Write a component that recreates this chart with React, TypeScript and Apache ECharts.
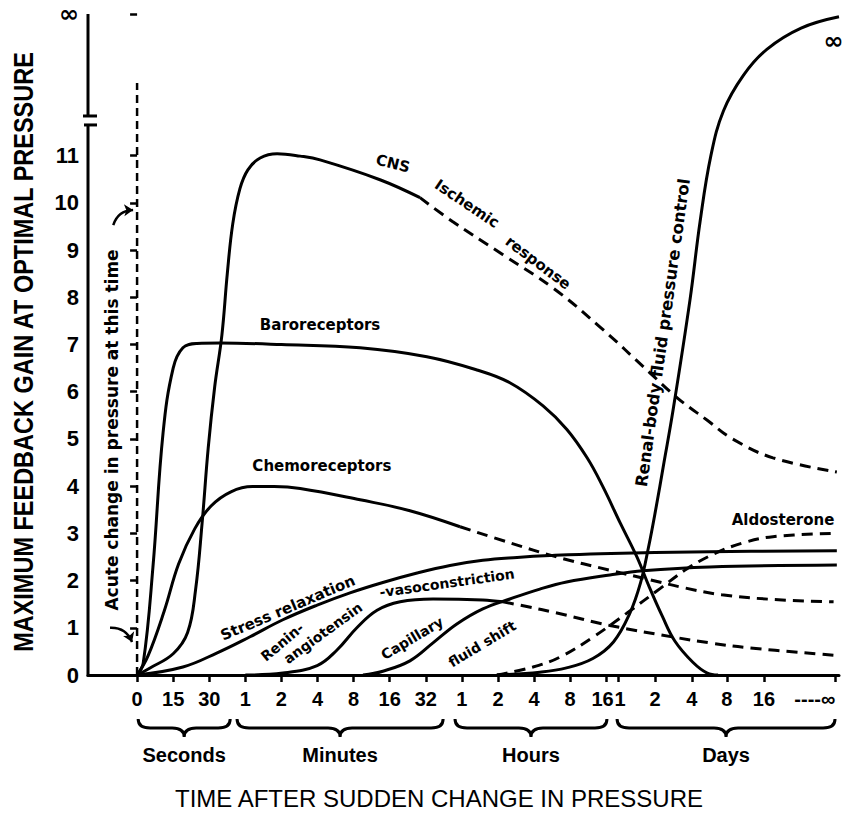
import React, { useEffect, useRef } from 'react';
import * as echarts from 'echarts';

// ---------- axis values (x in "tick step" units) ----------
const xTickValues = [0, 1, 2, 3, 4, 5, 6, 7, 8, 9, 10, 11, 12, 13, 13.33, 14.35, 15.37, 16.34, 17.37, 19.35];
const xLabelValues = [0, 1, 2, 3, 4, 5, 6, 7, 8, 9, 10, 11, 12, 12.9, 13.38, 14.35, 15.37, 16.34, 17.37, 18.78];
const xTickLabels = ['0', '15', '30', '1', '2', '4', '8', '16', '32', '1', '2', '4', '8', '16', '1', '2', '4', '8', '16', '----∞'];
const yTickValues = [0, 1, 2, 3, 4, 5, 6, 7, 8, 9, 10, 11, 14];
const yTickLabels = ['0', '1', '2', '3', '4', '5', '6', '7', '8', '9', '10', '11', '∞'];
const yBreak = [11.65, 11.84];

const timeUnits = ['Seconds', 'Minutes', 'Hours', 'Days'];
const unitStart = [0.03, 2.77, 8.81, 13.3];
const unitEnd = [2.58, 8.48, 13.02, 19.34];

// ---------- curves [x, gain] ----------
const cnsSolid = [[0, 0], [0.36, 0.15], [1.0, 0.45], [1.4, 0.9], [1.62, 1.8], [1.8, 3.2], [1.97, 4.8], [2.15, 6.1], [2.35, 7.2], [2.5, 8.5], [2.65, 9.55], [2.85, 10.3], [3.07, 10.7], [3.41, 10.95], [3.88, 11.04], [4.52, 10.99], [5.07, 10.91], [6.73, 10.49], [7.84, 10.11]];
const cnsDashed = [[7.84, 10.11], [8.75, 9.6], [10.14, 8.9], [11.52, 8.2], [12.83, 7.37], [14.21, 6.4], [15.0, 5.85], [15.79, 5.4], [16.5, 5.0], [17.62, 4.6], [19.39, 4.3]];
const baroreceptors = [[0, 0], [0.17, 0.25], [0.44, 2.29], [0.72, 5.13], [1.0, 6.5], [1.27, 6.93], [1.66, 7.02], [2.3, 7.03], [4.0, 7.0], [6.18, 6.93], [8.03, 6.74], [9.42, 6.46], [10.33, 6.19], [11.25, 5.7], [11.91, 5.2], [12.47, 4.6], [12.9, 4.0], [13.4, 3.2], [13.85, 2.5], [14.2, 1.85], [14.55, 1.25], [14.9, 0.72], [15.4, 0.27], [15.8, 0.04], [16.1, 0]];
const chemoSolid = [[0, 0], [0.3, 0.4], [0.75, 1.35], [1.15, 2.35], [1.6, 3.1], [2.05, 3.58], [2.6, 3.88], [3.2, 3.99], [3.8, 3.99], [4.52, 3.95], [6.18, 3.71], [7.56, 3.48], [8.95, 3.14]];
const chemoDashed = [[8.95, 3.14], [10.33, 2.8], [11.63, 2.5], [13.1, 2.22], [14.2, 2.02], [15.2, 1.84], [16.2, 1.7], [17.62, 1.6], [19.3, 1.55]];
const stressRelaxation = [[0, 0], [1.27, 0.17], [2.22, 0.47], [3.13, 0.81], [4.04, 1.17], [4.99, 1.48], [5.9, 1.74], [6.81, 1.96], [7.76, 2.16], [8.67, 2.32], [9.58, 2.43], [10.53, 2.49], [11.44, 2.53], [12.83, 2.57], [15.87, 2.61], [19.39, 2.63]];
const reninSolid = [[3.0, 0], [4.04, 0.04], [4.99, 0.2], [5.54, 0.53], [6.09, 1.0], [6.65, 1.37], [7.29, 1.55], [8.2, 1.61], [9.58, 1.59], [10.14, 1.55]];
const reninDashed = [[10.14, 1.55], [10.8, 1.45], [11.6, 1.32], [13.1, 1.05], [14.96, 0.79], [15.87, 0.68], [16.9, 0.58], [19.3, 0.42]];
const capillaryShift = [[6.26, 0], [6.81, 0.08], [7.56, 0.3], [8.2, 0.68], [8.86, 1.08], [9.58, 1.4], [10.33, 1.61], [11.16, 1.82], [11.9, 1.97], [13.1, 2.12], [14.02, 2.21], [15.87, 2.29], [19.39, 2.33]];
const renalBodyFluid = [[9.97, 0], [11.16, 0.06], [11.9, 0.15], [12.63, 0.35], [13.2, 0.7], [13.65, 1.3], [13.95, 1.95], [14.17, 2.7], [14.37, 3.5], [14.6, 4.5], [14.85, 5.6], [15.32, 7.94], [15.6, 9.6], [15.9, 11.0], [16.25, 11.95], [16.8, 12.7], [17.45, 13.25], [18.4, 13.7], [19.45, 13.94]];
const aldosterone = [[9.97, 0], [10.97, 0.17], [11.72, 0.38], [12.63, 0.8], [13.57, 1.31], [14.49, 1.83], [15.24, 2.25], [16.0, 2.57], [16.8, 2.8], [17.62, 2.93], [19.39, 3.0]];
const acuteLine = [[0, 0], [0, 12.54]];

// ---------- layout (annotation placement) ----------
const X_MIN = -1.36;
const X_MAX = 19.45;
const Y_MAX = 14;

const annotations = [
  { text: 'CNS', x: 7.09, y: 10.83, rot: -14, size: 15 },
  { text: 'Ischemic', x: 9.14, y: 9.98, rot: -34, size: 15 },
  { text: 'response', x: 11.11, y: 8.73, rot: -37, size: 15 },
  { text: 'Baroreceptors', x: 5.07, y: 7.42, rot: 0, size: 15 },
  { text: 'Chemoreceptors', x: 5.12, y: 4.43, rot: 0, size: 15 },
  { text: 'Stress relaxation', x: 4.18, y: 1.42, rot: 23, size: 15 },
  { text: 'Renin-', x: 4.02, y: 0.7, rot: 40, size: 14 },
  { text: 'angiotensin', x: 5.15, y: 0.89, rot: 36, size: 14 },
  { text: '-vasoconstriction', x: 8.59, y: 1.95, rot: 8, size: 14 },
  { text: 'Capillary', x: 7.62, y: 0.78, rot: 31, size: 14 },
  { text: 'fluid shift', x: 9.56, y: 0.66, rot: 31, size: 14 },
  { text: 'Renal-body fluid pressure control', x: 14.57, y: 7.25, rot: 82, size: 16.5 },
  { text: 'Aldosterone', x: 17.9, y: 3.28, rot: 0, size: 15 },
  { text: 'Acute change in pressure at this time', x: -0.69, y: 5.19, rot: 90, size: 17 },
  { text: '∞', x: 19.3, y: 13.43, rot: 0, size: 24 },
];

const arrows = [
  { from: [-0.66, 9.53], to: [-0.11, 9.85], curve: 0.35 },
  { from: [-0.75, 1.0], to: [-0.14, 0.7], curve: 0.35 },
];

const FONT = '"DejaVu Sans", sans-serif';
const AXFONT = '"Liberation Sans", Arial, sans-serif';

function curve(name: string, data: number[][], dashed: boolean) {
  return {
    type: 'line',
    name,
    data,
    showSymbol: false,
    symbol: 'none',
    smooth: 0.4,
    silent: true,
    z: 3,
    lineStyle: { color: '#000', width: 3, type: dashed ? [11, 7] : 'solid' },
  };
}

function findLabel(v: number, vals: number[], labels: string[]) {
  const i = vals.findIndex((t) => Math.abs(t - v) < 1e-6);
  return i >= 0 ? labels[i] : '';
}

export default function App() {
  const ref = useRef<HTMLDivElement>(null);
  useEffect(() => {
    const chart = echarts.init(ref.current!, null, { renderer: 'svg' });
    const option: any = {
      animation: false,
      backgroundColor: '#fff',
      grid: { left: 88, top: 14, width: 751, height: 661, containLabel: false },
      xAxis: {
        type: 'value',
        min: X_MIN,
        max: X_MAX,
        splitLine: { show: false },
        axisLine: { show: true, onZero: false, lineStyle: { color: '#000', width: 3 } },
        axisTick: { show: true, customValues: xTickValues, length: 7, lineStyle: { color: '#000', width: 2.5 } },
        axisLabel: {
          customValues: xLabelValues,
          margin: 14,
          color: '#000',
          fontWeight: 'bold',
          fontSize: 20,
          fontFamily: AXFONT,
          hideOverlap: false,
          formatter: (v: number) => findLabel(v, xLabelValues, xTickLabels),
        },
      },
      yAxis: {
        type: 'value',
        min: 0,
        max: Y_MAX,
        splitLine: { show: false },
        axisLine: { show: false },
        axisTick: { show: true, customValues: yTickValues, length: 7, lineStyle: { color: '#000', width: 2.5 } },
        axisLabel: {
          customValues: yTickValues,
          margin: 9,
          color: '#000',
          fontWeight: 'bold',
          fontSize: 22,
          fontFamily: AXFONT,
          formatter: (v: number) => {
            const t = findLabel(v, yTickValues, yTickLabels);
            return t === '∞' ? '{inf|∞}' : t;
          },
          rich: { inf: { fontSize: 24, fontWeight: 'bold', fontFamily: FONT, color: '#000', lineHeight: 20 } },
        },
      },
      graphic: [
        {
          type: 'text',
          x: 23,
          y: 352,
          rotation: Math.PI / 2,
          scaleX: 0.87,
          style: {
            text: 'MAXIMUM FEEDBACK GAIN AT OPTIMAL PRESSURE',
            fill: '#000',
            font: 'bold 27px ' + AXFONT,
            align: 'center',
            verticalAlign: 'middle',
          },
        },
        {
          type: 'text',
          x: 439,
          y: 798,
          style: {
            text: 'TIME AFTER SUDDEN CHANGE IN PRESSURE',
            fill: '#000',
            font: '24px ' + AXFONT,
            align: 'center',
            verticalAlign: 'middle',
          },
        },
      ],
      series: [
        curve('CNS ischemic response', cnsSolid, false),
        curve('CNS ischemic response (dashed)', cnsDashed, true),
        curve('Baroreceptors', baroreceptors, false),
        curve('Chemoreceptors', chemoSolid, false),
        curve('Chemoreceptors (dashed)', chemoDashed, true),
        curve('Stress relaxation', stressRelaxation, false),
        curve('Renin-angiotensin-vasoconstriction', reninSolid, false),
        curve('Renin-angiotensin-vasoconstriction (dashed)', reninDashed, true),
        curve('Capillary fluid shift', capillaryShift, false),
        curve('Renal-body fluid pressure control', renalBodyFluid, false),
        curve('Aldosterone', aldosterone, true),
        {
          type: 'line',
          name: 'Acute change',
          data: acuteLine,
          showSymbol: false,
          symbol: 'none',
          silent: true,
          lineStyle: { color: '#000', width: 2.5, type: [8, 5] },
        },
        {
          type: 'lines',
          coordinateSystem: 'cartesian2d',
          silent: true,
          symbol: ['none', 'arrow'],
          symbolSize: 9,
          data: arrows.map((a) => ({ coords: [a.from, a.to], lineStyle: { curveness: a.curve } })),
          lineStyle: { color: '#000', width: 2.5, opacity: 1 },
        },
        {
          // y axis line with break
          type: 'custom',
          silent: true,
          clip: false,
          data: [[X_MIN, 0]],
          renderItem: (params: any, api: any) => {
            const p0 = api.coord([X_MIN, 0]);
            const p1 = api.coord([X_MIN, yBreak[0]]);
            const p2 = api.coord([X_MIN, yBreak[1]]);
            const p3 = api.coord([X_MIN, Y_MAX]);
            const st = { stroke: '#000', lineWidth: 3 };
            return {
              type: 'group',
              children: [
                { type: 'line', shape: { x1: p0[0], y1: p0[1] + 1.5, x2: p1[0], y2: p1[1] }, style: st },
                { type: 'line', shape: { x1: p2[0], y1: p2[1], x2: p3[0], y2: p3[1] }, style: st },
                { type: 'line', shape: { x1: p1[0] - 4, y1: p1[1], x2: p1[0] + 9, y2: p1[1] }, style: st },
                { type: 'line', shape: { x1: p2[0] - 5, y1: p2[1], x2: p2[0] + 9, y2: p2[1] }, style: st },
              ],
            };
          },
        },
        {
          // time-unit braces
          type: 'custom',
          silent: true,
          clip: false,
          data: timeUnits.map((_, i) => [unitStart[i], unitEnd[i]]),
          renderItem: (params: any, api: any) => {
            const s = api.coord([api.value(0), 0]);
            const e = api.coord([api.value(1), 0]);
            const y0 = s[1] + 44;
            const y1 = s[1] + 53;
            const y2 = s[1] + 62;
            const x1 = s[0];
            const x2 = e[0];
            const m = (x1 + x2) / 2;
            const d = `M${x1} ${y0} Q${x1} ${y1} ${x1 + 12} ${y1} L${m - 12} ${y1} Q${m} ${y1} ${m} ${y2} Q${m} ${y1} ${m + 12} ${y1} L${x2 - 12} ${y1} Q${x2} ${y1} ${x2} ${y0}`;
            return {
              type: 'group',
              children: [
                { type: 'path', shape: { pathData: d }, style: { fill: 'none', stroke: '#000', lineWidth: 3 } },
                {
                  type: 'text',
                  x: m,
                  y: s[1] + 80,
                  style: {
                    text: timeUnits[params.dataIndex],
                    fill: '#000',
                    font: 'bold 20px ' + AXFONT,
                    align: 'center',
                    verticalAlign: 'middle',
                  },
                },
              ],
            };
          },
        },
        {
          // curve annotations
          type: 'custom',
          silent: true,
          clip: false,
          z: 5,
          data: annotations.map((a, i) => [a.x, a.y, i]),
          renderItem: (params: any, api: any) => {
            const a = annotations[params.dataIndex];
            const p = api.coord([a.x, a.y]);
            return {
              type: 'text',
              x: p[0],
              y: p[1],
              rotation: (a.rot * Math.PI) / 180,
              style: {
                text: a.text,
                fill: '#000',
                font: `bold ${a.size}px ${FONT}`,
                align: 'center',
                verticalAlign: 'middle',
              },
            };
          },
        },
      ],
    };
    chart.setOption(option);
    return () => chart.dispose();
  }, []);
  return (
    <div
      ref={ref}
      style={{ position: 'absolute', left: 0, top: 0, width: 849, height: 815, background: '#fff' }}
    />
  );
}
